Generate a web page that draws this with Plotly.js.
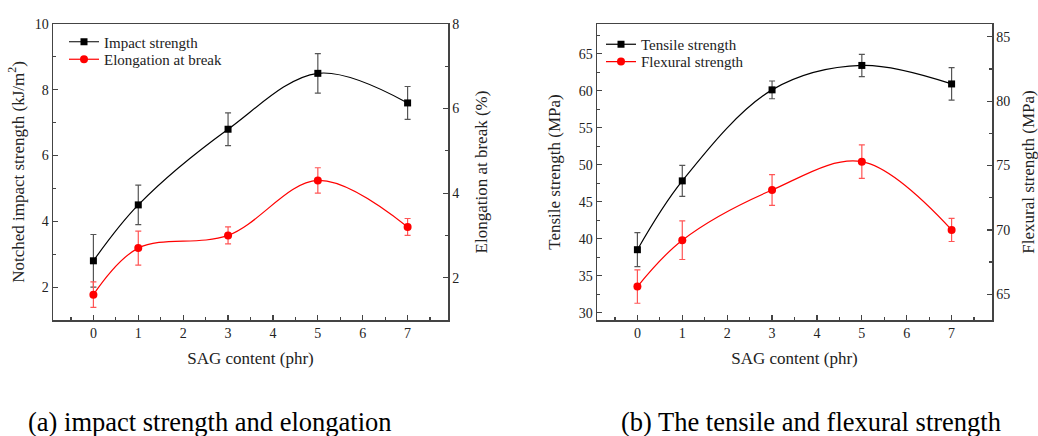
<!DOCTYPE html>
<html>
<head>
<meta charset="utf-8">
<script src="https://cdn.plot.ly/plotly-3.0.1.min.js"></script>
<style>html,body{margin:0;padding:0;background:#fff;}#chart{width:1038px;height:436px;}</style>
</head>
<body>
<div id="chart"></div>
<script>
// Data
const sag = [0, 1, 3, 5, 7];
const impactStrength = [2.8, 4.5, 6.8, 8.5, 7.6];
const impactErr = [0.8, 0.6, 0.5, 0.6, 0.5];
const elongation = [1.6, 2.7, 3.0, 4.3, 3.2];
const elongationErr = [0.3, 0.4, 0.2, 0.3, 0.2];
const tensileStrength = [38.5, 47.8, 60.1, 63.4, 60.9];
const tensileErr = [2.3, 2.1, 1.2, 1.5, 2.2];
const flexuralStrength = [65.6, 69.2, 73.1, 75.3, 70.0];
const flexuralErr = [1.3, 1.5, 1.2, 1.3, 0.9];

const FONT = '"Liberation Serif"';
const AX = '#444';

function trace(y, err, name, color, symbol, size, xa, ya, legend, ecolor) {
  return {
    x: sag, y: y, name: name, type: 'scatter', mode: 'lines+markers',
    xaxis: xa, yaxis: ya, legend: legend,
    line: {color: color, width: 1.2, shape: 'spline', smoothing: 1},
    marker: {color: color, symbol: symbol, size: size},
    error_y: {type: 'data', array: err, visible: true, color: ecolor, thickness: 1.2, width: 3}
  };
}

const data = [
  trace(impactStrength, impactErr, 'Impact strength', '#000', 'square', 7, 'x', 'y', 'legend', '#555'),
  trace(elongation, elongationErr, 'Elongation at break', '#ff0000', 'circle', 8, 'x', 'y2', 'legend2', '#ff5555'),
  trace(tensileStrength, tensileErr, 'Tensile strength', '#000', 'square', 7, 'x2', 'y3', 'legend3', '#555'),
  trace(flexuralStrength, flexuralErr, 'Flexural strength', '#ff0000', 'circle', 8, 'x2', 'y4', 'legend4', '#ff5555')
];

function xAxis(domain, anchor) {
  return {
    domain: domain, anchor: anchor, range: [-0.9, 7.9], tick0: 0, dtick: 1,
    ticks: 'inside', ticklen: 5, tickwidth: 1.2, tickcolor: AX,
    minor: {ticks: 'inside', dtick: 0.5, ticklen: 3, tickcolor: AX, tickwidth: 1.2},
    showline: true, linecolor: AX, linewidth: 1.5, mirror: true,
    showgrid: false, zeroline: false,
    tickfont: {family: FONT, size: 14, color: '#222'},
    title: {text: 'SAG content (phr)', font: {family: FONT, size: 17, color: '#222'}, standoff: 12}
  };
}
function yAxis(range, tick0, dtick, minor, title, side, anchor, overlaying, standoff) {
  const a = {
    range: range, tick0: tick0, dtick: dtick, side: side, anchor: anchor,
    ticks: 'inside', ticklen: 5, tickwidth: 1.2, tickcolor: AX,
    minor: {ticks: 'inside', dtick: minor, ticklen: 3, tickcolor: AX, tickwidth: 1.2},
    showline: true, linecolor: AX, linewidth: 1.5, mirror: false,
    showgrid: false, zeroline: false,
    tickfont: {family: FONT, size: 14, color: '#222'},
    title: {text: title, font: {family: FONT, size: 17, color: '#222'}, standoff: standoff}
  };
  if (overlaying) a.overlaying = overlaying;
  return a;
}

const W = 1038, H = 436;
function leg(x, top) {
  return {x: x / W, y: 1 - top / H, xanchor: 'left', yanchor: 'top', bgcolor: 'rgba(0,0,0,0)',
          font: {family: FONT, size: 15, color: '#222'}, itemwidth: 30};
}
const layout = {
  width: W, height: H,
  margin: {l: 0, r: 0, t: 0, b: 0},
  paper_bgcolor: '#fff', plot_bgcolor: 'rgba(0,0,0,0)',
  font: {family: FONT},
  showlegend: true,
  xaxis: xAxis([53 / W, 448 / W], 'y'),
  yaxis: Object.assign(yAxis([1, 10], 0, 2, 1, 'Notched impact strength (kJ/m<sup>2</sup>)', 'left', 'x', null, 6), {domain: [1 - 320 / H, 1 - 24 / H]}),
  yaxis2: yAxis([1, 8], 0, 2, 1, 'Elongation at break (%)', 'right', 'x', 'y', 17),
  xaxis2: xAxis([597 / W, 992 / W], 'y3'),
  yaxis3: Object.assign(yAxis([29, 69], 30, 5, 2.5, 'Tensile strength (MPa)', 'left', 'x2', null, 14), {domain: [1 - 320 / H, 1 - 24 / H]}),
  yaxis4: yAxis([63, 86], 65, 5, 2.5, 'Flexural strength (MPa)', 'right', 'x2', 'y3', 14),
  legend: leg(64, 25.5),
  legend2: leg(64, 43),
  legend3: leg(601, 28),
  legend4: leg(601, 45.3),
  annotations: [
    {text: '(a) impact strength and elongation', xref: 'paper', yref: 'paper', x: 26 / W, y: 1 - 422 / H,
     xanchor: 'left', yanchor: 'middle', showarrow: false, font: {family: FONT, size: 26.5, color: '#000'}},
    {text: '(b) The tensile and flexural strength', xref: 'paper', yref: 'paper', x: 619 / W, y: 1 - 422 / H,
     xanchor: 'left', yanchor: 'middle', showarrow: false, font: {family: FONT, size: 26.5, color: '#000'}}
  ]
};

Plotly.newPlot('chart', data, layout, {displayModeBar: false, staticPlot: true});
</script>
</body>
</html>
